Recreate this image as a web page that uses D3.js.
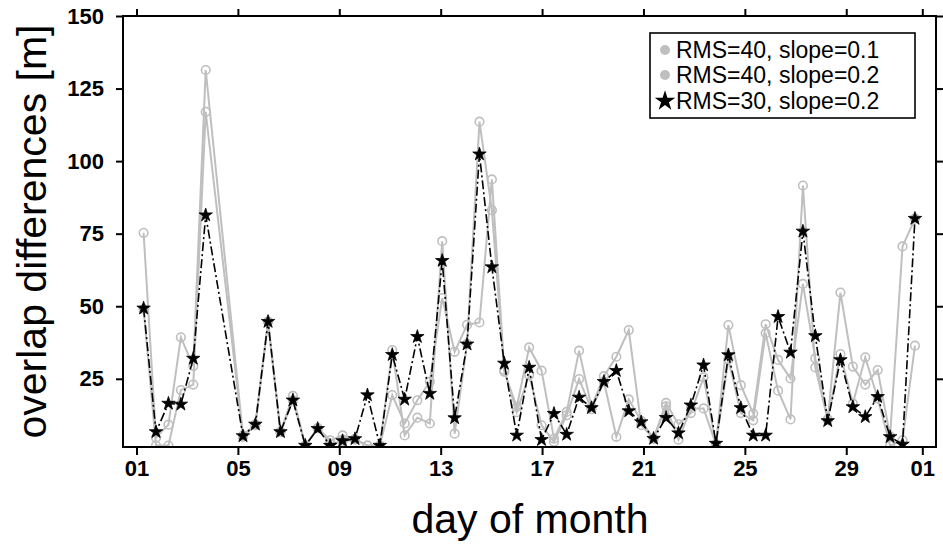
<!DOCTYPE html>
<html><head><meta charset="utf-8">
<script src="https://cdn.jsdelivr.net/npm/d3@7"></script>
<style>body{margin:0;background:#fff}svg{display:block}</style>
</head><body><svg id="c" width="943" height="544"></svg>
<script>
// time of each overlap (day of month)
const days = [1.28,1.77,2.26,2.75,3.24,3.73,
  5.20,5.69,6.19,6.68,7.17,7.66,8.15,8.64,9.13,9.62,10.11,10.60,
  11.09,11.58,12.08,12.57,13.06,13.55,14.04,14.53,15.02,
  15.51,16.00,16.49,16.98,17.47,
  17.97,18.46,18.95,19.44,19.93,20.42,20.91,21.40,
  21.89,22.38,22.87,23.37,23.86,24.35,24.84,25.33,25.82,26.31,26.80,27.29,27.78,28.27,28.77,29.26,29.75,30.24,30.73,31.22,31.71];
const rms40slope01 = [75.3,4.7,9.2,39.3,29.4,131.4,
  5.5,9.3,44.7,6.7,19.1,2,8,3.8,5.5,4.3,2,2,
  34.9,5.5,11.6,9.6,72.4,6.1,37,113.6,83.1,
  27.4,15.3,35.8,27.8,4.4,
  13.6,34.7,15.3,25.9,32.6,41.8,9,4.4,
  16.7,9.3,13.2,25.5,2.4,43.5,22.8,13,43.8,31.5,25.1,57.7,32,11,54.7,29.2,23,28,5.2,70.6,80.2];
const rms40slope02 = [49,2,2,21.1,23,117,
  5,9,44.7,6.7,17.6,2,8,2.5,3.5,4,2,2,
  19.4,9.6,17.6,24,52.8,34.3,43.6,44.4,93.7,
  28,13.5,26.3,9,3.3,
  12.4,24.9,14.5,24,5,17.9,10.5,4.4,
  15.5,4,14.8,14.8,2.4,31.7,13.2,10.7,40.7,20.9,11,91.6,28.9,10.8,33.5,16.5,32.4,18.2,2,3.8,36.4];
const rms30slope02 = [49.3,6.7,16.5,16.2,32,81.4,
  5.3,9.3,44.7,6.7,17.6,2,7.8,2,3.6,4.3,19.4,2,
  33.3,17.9,39.5,19.9,65.7,11.5,36.9,102.4,63.5,
  30.3,5.5,28.9,4,13,
  5.8,18.6,15,24,27.8,13.9,10.1,4.4,
  11.6,6.3,15.9,29.7,2.7,33.2,15,5.5,5.5,46.4,34.1,75.8,39.8,10.5,31.5,15.3,11.9,18.8,5,2.4,80.2];
const seriesNames = ["RMS=40, slope=0.1","RMS=40, slope=0.2","RMS=30, slope=0.2"];
const xTickDays = [1,5,9,13,17,21,25,29,32];
const xTickLabels = ["01","05","09","13","17","21","25","29","01"];
const yTicks = [25,50,75,100,125,150];

const FONT = "Arial, 'Liberation Sans', sans-serif";
const GRAY = "#bfbfbf";
const L=123, R=936, T=16, B=447;
const svg = d3.select("#c");
const x = d3.scaleLinear().domain([1,32]).range([136.5,922.3]);
const y = d3.scaleLinear().domain([1.5,150]).range([B,T]);

svg.append("defs").append("clipPath").attr("id","clip")
  .append("rect").attr("x",L).attr("y",T).attr("width",R-L).attr("height",B-T);

function styleAxis(g, labels){
  g.select(".domain").remove();
  g.selectAll(".tick line").attr("stroke","#000").attr("stroke-width",2);
  g.selectAll(".tick text").attr("font-family",FONT).attr("font-size",22)
    .attr("font-weight","bold").attr("fill","#000");
  if(!labels) g.selectAll(".tick text").remove();
}
svg.append("g").attr("transform",`translate(${L},0)`)
  .call(d3.axisLeft(y).tickValues(yTicks).tickSize(7).tickPadding(12))
  .call(g=>styleAxis(g,true));
svg.append("g").attr("transform",`translate(${R},0)`)
  .call(d3.axisRight(y).tickValues(yTicks).tickSize(7))
  .call(g=>styleAxis(g,false));
svg.append("g").attr("transform",`translate(0,${B})`)
  .call(d3.axisBottom(x).tickValues(xTickDays).tickSize(8).tickPadding(5)
    .tickFormat((d,i)=>xTickLabels[i]))
  .call(g=>styleAxis(g,true));
svg.append("g").attr("transform",`translate(0,${T})`)
  .call(d3.axisTop(x).tickValues(xTickDays).tickSize(7))
  .call(g=>styleAxis(g,false));

const plot = svg.append("g").attr("clip-path","url(#clip)");
const line = d3.line().x((d,i)=>x(days[i])).y(d=>y(d));

[rms40slope01, rms40slope02].forEach(s=>{
  plot.append("path").datum(s).attr("d",line).attr("fill","none")
    .attr("stroke",GRAY).attr("stroke-width",2);
  plot.append("g").selectAll("circle").data(s).join("circle")
    .attr("cx",(d,i)=>x(days[i])).attr("cy",d=>y(d)).attr("r",4.3)
    .attr("fill","none").attr("stroke",GRAY).attr("stroke-width",1.6);
});
plot.append("path").datum(rms30slope02).attr("d",line).attr("fill","none")
  .attr("stroke","#000").attr("stroke-width",1.6).attr("stroke-dasharray","9,3,2,3");
const star = d3.symbol().type(d3.symbolStar).size(56);
plot.append("g").selectAll("path").data(rms30slope02).join("path")
  .attr("d",star).attr("transform",(d,i)=>`translate(${x(days[i])},${y(d)})`)
  .attr("fill","#000").attr("stroke","#000").attr("stroke-width",0.8);

svg.append("rect").attr("x",L).attr("y",T).attr("width",R-L).attr("height",B-T)
  .attr("fill","none").attr("stroke","#000").attr("stroke-width",2);

// legend
const lg = svg.append("g");
lg.append("rect").attr("x",650).attr("y",33).attr("width",265).attr("height",85)
  .attr("fill","#fff").attr("stroke","#000").attr("stroke-width",1.6);
const rowsY = [50,75,101];
seriesNames.forEach((n,i)=>{
  if(i<2) lg.append("circle").attr("cx",665).attr("cy",rowsY[i]).attr("r",5).attr("fill",GRAY);
  else lg.append("path").attr("d",d3.symbol().type(d3.symbolStar).size(130))
    .attr("transform",`translate(665,${rowsY[i]})`).attr("fill","#000");
  lg.append("text").attr("x",676).attr("y",rowsY[i]).attr("dy","0.35em")
    .attr("font-family",FONT).attr("font-size",23).attr("fill","#000").text(n);
});

svg.append("text").attr("transform",`translate(46,${(T+B)/2}) rotate(-90)`)
  .attr("text-anchor","middle").attr("font-family",FONT).attr("font-size",41)
  .attr("fill","#000").text("overlap differences [m]");
svg.append("text").attr("x",530).attr("y",533).attr("text-anchor","middle")
  .attr("font-family",FONT).attr("font-size",41).attr("fill","#000").text("day of month");
</script></body></html>
